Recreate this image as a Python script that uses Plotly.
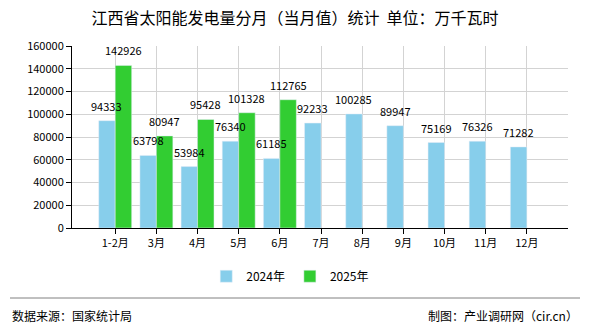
import plotly.graph_objects as go

categories = ["1-2月", "3月", "4月", "5月", "6月", "7月", "8月", "9月", "10月", "11月", "12月"]
values_2024 = [94333, 63798, 53984, 76340, 61185, 92233, 100285, 89947, 75169, 76326, 71282]
values_2025 = [142926, 80947, 95428, 101328, 112765]
series_names = ["2024年", "2025年"]
y_ticks = [0, 20000, 40000, 60000, 80000, 100000, 120000, 140000, 160000]

FONT = "Noto Sans CJK SC"
idx = list(range(len(categories)))

fig = go.Figure()
fig.add_trace(go.Bar(x=idx, y=values_2024, name=series_names[0], marker_color="#87CEEB"))
fig.add_trace(go.Bar(x=idx[:len(values_2025)], y=values_2025, name=series_names[1],
                     marker_color="#32CD32"))

# value labels drawn on top of all bars
slot_px = 496 / 12.05
half_bar = slot_px * 0.4 / 2
for i, v in zip(idx, values_2024):
    fig.add_annotation(x=i, y=v, text=str(v), xshift=-half_bar, yshift=5,
                       xanchor="center", yanchor="bottom", showarrow=False,
                       font=dict(size=11, family=FONT, color="#000000"))
for i, v in zip(idx, values_2025):
    fig.add_annotation(x=i, y=v, text=str(v), xshift=half_bar, yshift=5,
                       xanchor="center", yanchor="bottom", showarrow=False,
                       font=dict(size=11, family=FONT, color="#000000"))

fig.update_layout(
    width=590, height=330,
    margin=dict(l=72, r=22, t=46, b=102),
    paper_bgcolor="white", plot_bgcolor="white",
    barmode="group", bargap=0.2, bargroupgap=0,
    font=dict(family=FONT, size=11, color="#000000"),
    title=dict(text="江西省太阳能发电量分月（当月值）统计  单位：万千瓦时",
               x=0.5, xanchor="center", xref="container",
               y=1 - 18 / 330, yanchor="middle", yref="container",
               font=dict(size=16, color="#000000", family=FONT)),
    legend=dict(orientation="h", x=0.44, xanchor="center", y=-0.265, yanchor="middle",
                font=dict(size=12, family=FONT), itemwidth=30, traceorder="normal"),
    showlegend=True,
)
fig.update_xaxes(
    tickmode="array", tickvals=idx, ticktext=categories,
    range=[-1.05, 11], showgrid=True, gridcolor="#d3d3d3", gridwidth=1,
    showline=True, linecolor="#000000", linewidth=1,
    ticks="outside", ticklen=5, tickcolor="#000000",
    tickfont=dict(size=11, family=FONT), zeroline=False,
)
fig.update_yaxes(
    tickmode="array", tickvals=y_ticks, ticktext=[str(v) for v in y_ticks],
    range=[0, 160000], showgrid=True, gridcolor="#d3d3d3", gridwidth=1,
    showline=True, linecolor="#000000", linewidth=1,
    ticks="outside", ticklen=5, tickcolor="#000000",
    tickfont=dict(size=11, family=FONT), zeroline=False,
)

fig.add_shape(type="line", xref="paper", yref="paper",
              x0=(10 - 72) / 496, x1=(580 - 72) / 496,
              y0=(228 - 298) / 182, y1=(228 - 298) / 182,
              line=dict(color="#808080", width=1))
fig.add_annotation(text="数据来源：国家统计局", xref="paper", yref="paper",
                   x=(10 - 72) / 496, y=(228 - 315) / 182, xanchor="left", yanchor="middle",
                   showarrow=False, font=dict(size=12, family=FONT, color="#000000"))
fig.add_annotation(text="制图：产业调研网（cir.cn）", xref="paper", yref="paper",
                   x=(580 - 72) / 496, y=(228 - 315) / 182, xanchor="right", yanchor="middle",
                   showarrow=False, font=dict(size=12, family=FONT, color="#000000"))

fig.write_html("out.html")
